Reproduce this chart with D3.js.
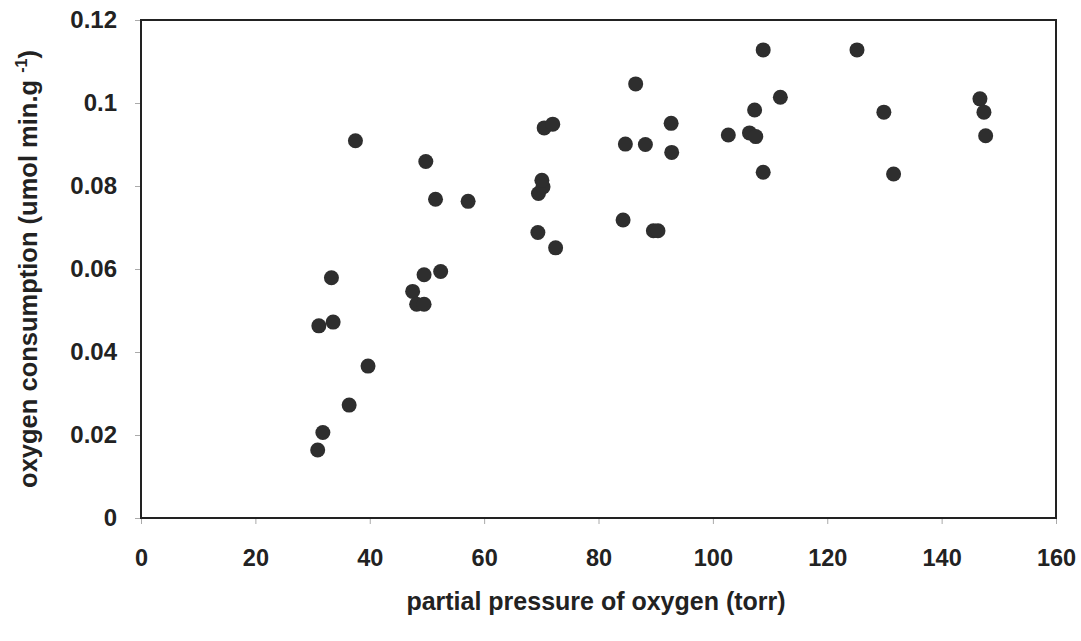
<!DOCTYPE html>
<html lang="en">
<head>
<meta charset="UTF-8">
<title>Oxygen consumption</title>
<style>
  body { margin: 0; background: #fff; }
  text { font-family: "Liberation Sans", Arial, sans-serif; font-weight: bold; fill: #222; }
</style>
</head>
<body>
<script src="https://cdn.jsdelivr.net/npm/d3@7"></script>
<script>
  // partial pressure of oxygen (torr)
  const pressure = [30.9, 31.8, 31.1, 33.6, 33.3, 36.4, 39.7, 37.5, 47.5, 48.2, 49.5, 49.5,
                    52.4, 49.8, 51.5, 57.2, 69.4, 69.5, 70.3, 70.1, 70.5, 72.0, 72.5, 84.3,
                    84.7, 88.2, 86.5, 92.7, 92.8, 89.6, 90.4, 102.7, 106.4, 107.5, 107.3, 108.8,
                    108.8, 111.8, 125.2, 129.9, 131.6, 146.7, 147.4, 147.7];
  // oxygen consumption (umol min.g-1)
  const consumption = [0.0164, 0.0206, 0.0463, 0.0472, 0.0579, 0.0272, 0.0366, 0.0909, 0.0546, 0.0515, 0.0515, 0.0586,
                       0.0594, 0.0859, 0.0768, 0.0763, 0.0688, 0.0782, 0.0798, 0.0814, 0.0940, 0.0949, 0.0651, 0.0718,
                       0.0901, 0.0900, 0.1046, 0.0951, 0.0881, 0.0692, 0.0692, 0.0923, 0.0928, 0.0919, 0.0983, 0.1128,
                       0.0833, 0.1014, 0.1128, 0.0978, 0.0829, 0.1010, 0.0978, 0.0921];
  const xTicks = [0, 20, 40, 60, 80, 100, 120, 140, 160];
  const yTicks = [0, 0.02, 0.04, 0.06, 0.08, 0.1, 0.12];

  const width = 1081, height = 641;
  const plotL = 141, plotR = 1056, plotT = 20, plotB = 518;

  const svg = d3.select('body').append('svg')
    .attr('width', width)
    .attr('height', height);

  const x = d3.scaleLinear().domain([0, 160]).range([plotL, plotR]);
  const y = d3.scaleLinear().domain([0, 0.12]).range([plotB, plotT]);

  // x axis
  const gx = svg.append('g')
    .attr('transform', `translate(0,${plotB})`)
    .call(d3.axisBottom(x).tickValues(xTicks).tickSize(6).tickPadding(25).tickFormat(d3.format('d')));
  gx.select('.domain').remove();
  gx.selectAll('line').attr('stroke', '#aaa');
  gx.selectAll('text').style('font-size', '23.5px').attr('fill', '#222');

  // y axis
  const gy = svg.append('g')
    .attr('transform', `translate(${plotL},0)`)
    .call(d3.axisLeft(y).tickValues(yTicks).tickSize(6).tickPadding(18).tickFormat(d => d === 0 ? '0' : String(+d.toFixed(2))));
  gy.select('.domain').remove();
  gy.selectAll('line').attr('stroke', '#aaa');
  gy.selectAll('text').style('font-size', '24px').attr('fill', '#222');

  // frame
  svg.append('rect')
    .attr('x', plotL).attr('y', plotT)
    .attr('width', plotR - plotL).attr('height', plotB - plotT)
    .attr('fill', 'none')
    .attr('stroke', '#222')
    .attr('stroke-width', 2);

  // points
  svg.append('g').selectAll('circle')
    .data(pressure.map((p, i) => [p, consumption[i]]))
    .join('circle')
    .attr('cx', d => x(d[0]))
    .attr('cy', d => y(d[1]))
    .attr('r', 7.5)
    .attr('fill', '#2e2e2e');

  // axis titles
  svg.append('text')
    .attr('x', 596).attr('y', 610)
    .attr('text-anchor', 'middle')
    .style('font-size', '25px')
    .text('partial pressure of oxygen (torr)');

  const yl = svg.append('text')
    .attr('transform', 'translate(37,269) rotate(-90)')
    .attr('text-anchor', 'middle')
    .style('font-size', '25.5px');
  yl.append('tspan').text('oxygen consumption (umol min.g ');
  yl.append('tspan').attr('dy', -10).style('font-size', '16px').text('-1');
  yl.append('tspan').attr('dy', 10).text(')');
</script>
</body>
</html>
